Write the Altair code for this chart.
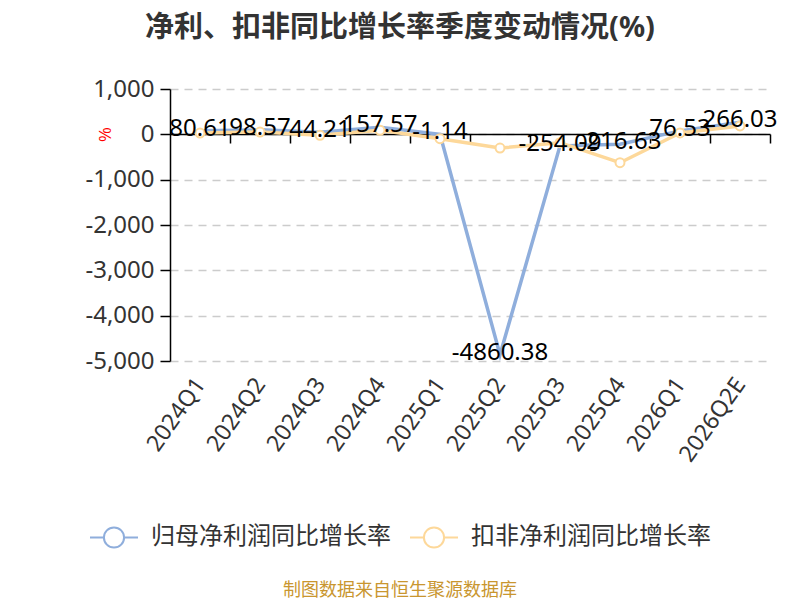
import altair as alt
import pandas as pd

quarters = ["2024Q1", "2024Q2", "2024Q3", "2024Q4", "2025Q1", "2025Q2",
            "2025Q3", "2025Q4", "2026Q1", "2026Q2E"]
net_profit = [80.61, 98.57, 44.21, 157.57, -1.14, -4860.38, -254.09, -216.63, 76.53, 266.03]
net_profit_labels = ["80.61", "98.57", "44.21", "157.57", "-1.14", "-4860.38",
                     "-254.09", "-216.63", "76.53", "266.03"]
deducted = [29, 51, -22, 88, -96, -302, -184, -626, 30, 184]
series_names = ["归母净利润同比增长率", "扣非净利润同比增长率"]
series_colors = ["#8faedc", "#fdd89a"]
y_ticks = [-5000, -4000, -3000, -2000, -1000, 0, 1000]

FONT = '"Noto Sans", "Noto Sans CJK SC", sans-serif'

blue_df = pd.DataFrame({"quarter": quarters, "value": net_profit,
                        "label": net_profit_labels, "series": series_names[0]})
orange_df = pd.DataFrame({"quarter": quarters, "value": deducted,
                          "series": series_names[1]})
footer_df = pd.DataFrame({"t": ["制图数据来自恒生聚源数据库"]})

xscale = alt.Scale(type="point", padding=0.5)
color = alt.Color("series:N", scale=alt.Scale(domain=series_names, range=series_colors),
                  legend=alt.Legend(
                      title=None, orient="none", direction="horizontal",
                      legendX=-81, legendY=423,
                      symbolType="M-1,0L-0.42,0M0.42,0A0.42,0.42,0,1,1,-0.42,0A0.42,0.42,0,1,1,0.42,0M0.42,0L1,0",
                      symbolSize=2304, symbolStrokeWidth=2, symbolFillColor="white",
                      labelFontSize=24, labelColor="#333", labelFont=FONT, labelLimit=0,
                      labelOffset=12, columnPadding=15))

yenc = alt.Y("value:Q", scale=alt.Scale(domain=[-5000, 1000], nice=False, zero=False),
             axis=alt.Axis(values=y_ticks,
                           labelExpr="replace(format(datum.value, ','), '\u2212', '-')",
                           labelFontSize=24, labelColor="#333", labelFont=FONT, labelPadding=6,
                           tickSize=10, tickColor="black", tickWidth=1.5,
                           domainColor="black", domainWidth=1.5,
                           grid=True, gridColor="#cccccc", gridDash=[8, 6], gridWidth=1.5,
                           title="%", titleColor="red", titleAngle=90, titleFontSize=16,
                           titleFontWeight="normal", titleX=-67, titleY=45,
                           titleAlign="center", titleBaseline="middle"))

x_labels = alt.X("quarter:N", sort=quarters, scale=xscale,
                 axis=alt.Axis(title=None, orient="bottom", labelAngle=-55, labelAlign="right",
                               labelBaseline="middle", labelFontSize=23, labelColor="#333",
                               labelFont=FONT, labelPadding=19, ticks=False, domain=False,
                               grid=False))
x_ticks = alt.X("quarter:N", sort=quarters, scale=xscale,
                axis=alt.Axis(title=None, orient="bottom", labels=False, offset=-227, ticks=True,
                              tickOffset=30, tickSize=9, tickColor="black", tickWidth=1.5,
                              domain=True, domainColor="black", domainWidth=1.5, grid=False))
x_none = alt.X("quarter:N", sort=quarters, scale=xscale, axis=None)

blue_line = alt.Chart(blue_df).mark_line(strokeWidth=3.5).encode(x=x_labels, y=yenc, color=color)
orange_line = alt.Chart(orange_df).mark_line(strokeWidth=3.5).encode(x=x_ticks, y=yenc, color=color)
orange_pts = alt.Chart(orange_df).mark_point(filled=True, fill="white", stroke=series_colors[1],
                                             strokeWidth=2, size=80, opacity=1).encode(
    x=x_none, y=yenc)
labels = alt.Chart(blue_df).mark_text(fontSize=24, color="black", font=FONT, align="center",
                                      baseline="middle", dy=-2).encode(
    x=x_none, y=yenc, text="label:N")
footer = alt.Chart(footer_df).mark_text(fontSize=18, color="#c9962f", font=FONT,
                                        align="center", baseline="middle").encode(
    x=alt.value(230), y=alt.value(502), text="t:N")

chart = alt.layer(blue_line, orange_line, orange_pts, labels, footer).resolve_axis(
    x="independent").properties(
    width=600, height=272,
    autosize=alt.AutoSizeParams(type="none"),
    padding={"left": 162, "top": 81, "right": 22, "bottom": 245},
    title=alt.TitleParams("净利、扣非同比增长率季度变动情况(%)", fontSize=29, fontWeight="bold",
                          color="#333", font=FONT, anchor="middle", dx=-70, offset=34),
).configure_view(stroke=None)

chart.save("out.html", embed_options={"renderer": "svg", "actions": False})
